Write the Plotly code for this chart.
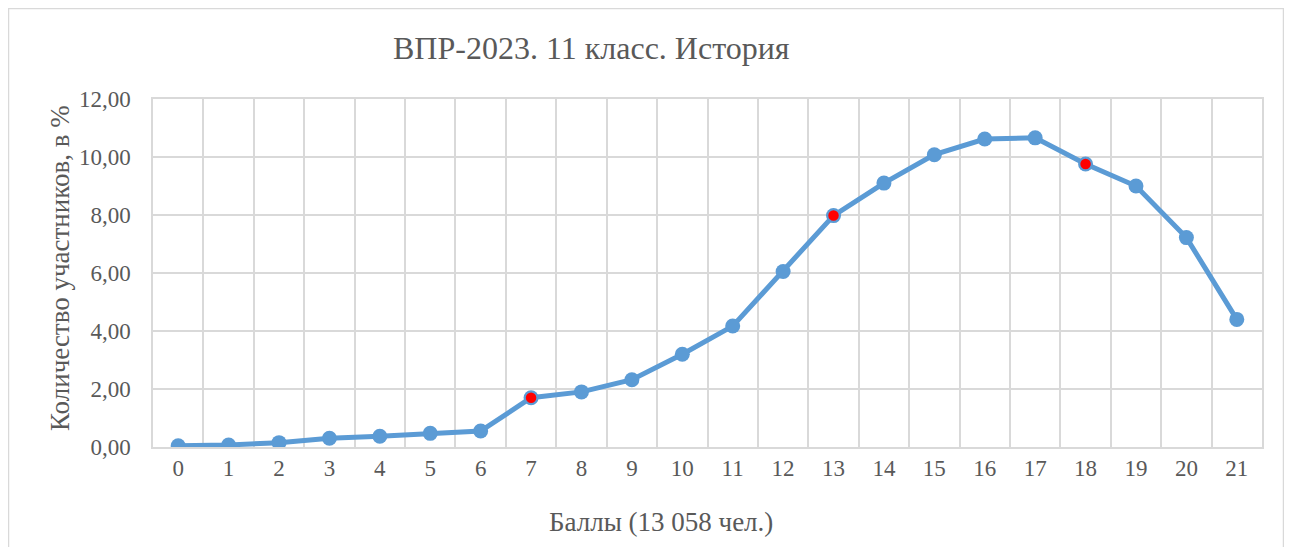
import plotly.graph_objects as go

# баллы и доля участников, %
scores = list(range(22))
percent = [0.04, 0.07, 0.15, 0.30, 0.37, 0.47, 0.55, 1.70, 1.90, 2.32,
           3.20, 4.17, 6.05, 7.98, 9.10, 10.08, 10.62, 10.66, 9.76, 9.00,
           7.22, 4.40]
# границы отметок (красные точки)
marks = [7, 13, 18]

title_text = 'ВПР-2023. 11 класс. История'
x_title = 'Баллы (13 058 чел.)'
y_title = 'Количество участников, в %'

BLUE = '#5B9BD5'
GRID = '#D9D9D9'
TEXT = '#595959'
FONT = 'Liberation Serif, Times New Roman, serif'

fig = go.Figure()

fig.add_trace(go.Scatter(
    x=scores, y=percent,
    mode='lines+markers',
    line=dict(color=BLUE, width=5),
    marker=dict(color=BLUE, size=15),
    hoverinfo='x+y',
    showlegend=False
))

fig.add_trace(go.Scatter(
    x=marks, y=[percent[i] for i in marks],
    mode='markers',
    marker=dict(color='#FF0000', size=12, line=dict(color=BLUE, width=1.5)),
    showlegend=False
))

# страница имеет отступ 8px, поэтому фигура чуть меньше окна
fig.update_layout(
    width=1276, height=539,
    margin=dict(l=145, r=22, t=91, b=100),
    paper_bgcolor='white', plot_bgcolor='white',
    separators=', ',
    font=dict(family=FONT, color=TEXT, size=23),
    annotations=[
        dict(text=title_text, x=0.395, y=1.147, xref='paper', yref='paper',
             xanchor='center', yanchor='middle',
             showarrow=False, font=dict(size=32, color=TEXT)),
        dict(text=y_title, x=-0.0839, y=0.514, xref='paper', yref='paper',
             xanchor='center', yanchor='middle',
             textangle=-90, showarrow=False, font=dict(size=27, color=TEXT)),
        dict(text=x_title, x=0.458, y=-0.2155, xref='paper', yref='paper',
             xanchor='center', yanchor='middle',
             showarrow=False, font=dict(size=27, color=TEXT)),
    ],
    shapes=[
        # рамка диаграммы
        dict(type='rect', xref='paper', yref='paper',
             x0=-0.1303, x1=1.0194, y0=-0.33, y1=1.260,
             line=dict(color=GRID, width=1.5), layer='below'),
    ],
)

fig.update_xaxes(
    range=[-0.5, 21.5],
    tickvals=scores,
    ticktext=[str(s) for s in scores],
    showgrid=False,
    zeroline=False,
    showline=True, linecolor=GRID, linewidth=1.5, mirror=True,
    ticks='', ticklabelstandoff=0,
    minor=dict(tickvals=[s - 0.5 for s in scores] + [21.5],
               showgrid=True, gridcolor=GRID, gridwidth=1.5),
    fixedrange=True,
)

fig.update_yaxes(
    range=[0, 12],
    dtick=2,
    tickformat='.2f',
    showgrid=True, gridcolor=GRID, gridwidth=1.5,
    zeroline=False,
    showline=True, linecolor=GRID, linewidth=1.5, mirror=True,
    ticks='', ticklabelstandoff=16,
    fixedrange=True,
)

fig.write_html('out.html')
